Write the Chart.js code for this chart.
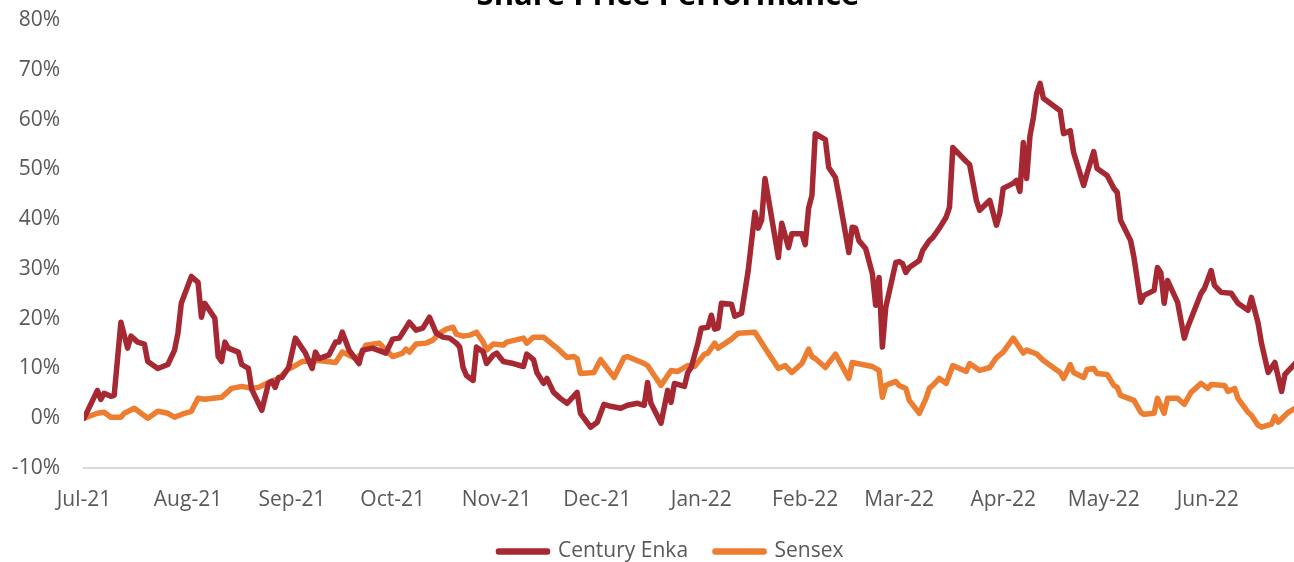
<!DOCTYPE html>
<html>
<head>
<meta charset="utf-8">
<script src="https://cdn.jsdelivr.net/npm/chart.js@4/dist/chart.umd.min.js"></script>
<style>
  html, body { margin: 0; padding: 0; background: #fff; overflow: hidden; width: 1294px; height: 562px; }
  #wrap { position: absolute; left: 0; top: -20px; }
</style>
</head>
<body>
<div id="wrap"><canvas id="perf" width="1294" height="592"></canvas></div>
<script>
// days counted from 1 Jul 2021, values in % change
const monthStarts = [0, 31, 62, 92, 123, 153, 184, 215, 243, 274, 304, 335];
const monthLabels = ['Jul-21', 'Aug-21', 'Sep-21', 'Oct-21', 'Nov-21', 'Dec-21',
                     'Jan-22', 'Feb-22', 'Mar-22', 'Apr-22', 'May-22', 'Jun-22'];

const enkaDays = [0, 4, 5, 6, 8, 9, 11, 13, 14, 16, 18, 19, 22, 25, 27, 28, 29, 32, 34, 35,
    36, 39, 40, 41, 42, 43, 46, 47, 49, 50, 53, 55, 56, 57, 58, 59, 61, 63, 66, 68,
    69, 70, 73, 75, 76, 77, 79, 82, 83, 86, 90, 92, 94, 97, 99, 101, 103, 105, 107, 109,
    111, 112, 113, 114, 116, 117, 119, 120, 122, 123, 125, 128, 131, 132, 134, 135, 137, 138, 140, 142,
    144, 147, 148, 151, 153, 155, 157, 160, 162, 165, 167, 168, 169, 172, 174, 175, 176, 179, 180, 181,
    183, 184, 186, 187, 188, 189, 190, 193, 194, 196, 198, 200, 201, 202, 203, 204, 207, 208, 210, 211,
    214, 215, 216, 217, 218, 221, 222, 224, 225, 228, 229, 230, 231, 233, 235, 236, 237, 238, 239, 242,
    243, 244, 245, 246, 249, 250, 252, 253, 255, 257, 258, 259, 263, 264, 266, 267, 270, 272, 273, 274,
    277, 278, 279, 280, 281, 282, 283, 284, 285, 286, 291, 292, 294, 295, 298, 299, 301, 302, 305, 307,
    308, 309, 312, 313, 315, 316, 319, 320, 321, 322, 323, 326, 328, 329, 333, 334, 336, 337, 339, 342,
    344, 347, 348, 350, 351, 353, 355, 357, 358, 361];
const enkaValues = [0, 5.6, 3.8, 5.0, 4.4, 4.6, 19.3, 14.1, 16.5, 15.3, 14.9, 11.4, 10.0, 10.8, 13.7, 17.1, 23.1, 28.5, 27.3, 20.3,
    23.1, 20.1, 12.4, 11.4, 15.3, 14.1, 13.3, 10.8, 10.0, 5.8, 1.6, 7.0, 7.4, 6.2, 8.2, 8.2, 10.2, 16.1, 13.1, 10.0,
    13.3, 12.0, 12.7, 15.3, 15.3, 17.3, 13.7, 11.0, 13.7, 14.1, 13.1, 15.9, 16.1, 19.3, 17.7, 18.1, 20.3, 17.1, 16.3, 16.1,
    15.1, 14.3, 10.2, 8.6, 7.6, 14.3, 13.3, 11.0, 12.7, 13.1, 11.4, 11.0, 10.4, 12.9, 11.8, 9.2, 7.0, 8.0, 5.2, 4.0,
    3.0, 5.2, 1.0, -1.8, -0.8, 2.8, 2.4, 2.0, 2.6, 3.0, 2.6, 7.2, 3.0, -1.0, 5.6, 3.2, 7.0, 6.4, 9.2, 10.2,
    15.1, 18.1, 18.3, 20.7, 17.9, 18.1, 23.1, 22.9, 20.5, 21.1, 29.7, 41.4, 38.2, 39.8, 48.2, 44.2, 32.3, 39.2, 34.3, 37.1,
    37.1, 34.9, 42.2, 44.8, 57.2, 56.0, 50.4, 48.4, 44.8, 33.3, 38.4, 38.2, 35.7, 34.1, 29.1, 22.7, 28.3, 14.3, 22.3, 31.3,
    31.5, 31.1, 29.3, 30.3, 31.7, 33.7, 35.7, 36.3, 38.2, 40.4, 42.4, 54.4, 51.6, 51.0, 43.8, 41.8, 43.8, 38.8, 41.2, 46.2,
    47.2, 47.8, 45.6, 55.4, 48.2, 56.8, 60.4, 65.3, 67.3, 64.3, 61.8, 57.2, 57.8, 53.4, 46.8, 49.2, 53.6, 50.2, 48.8, 46.2,
    45.4, 39.8, 35.7, 32.3, 23.3, 24.7, 25.7, 30.3, 29.3, 23.1, 27.7, 23.3, 16.1, 18.3, 25.1, 26.1, 29.7, 26.7, 25.3, 25.1,
    23.1, 21.7, 24.3, 19.1, 15.1, 9.2, 11.2, 5.4, 8.8, 11.0];

const sensexDays = [0, 4, 6, 8, 11, 12, 15, 17, 19, 22, 25, 27, 30, 32, 34, 36, 41, 44, 47, 50,
    52, 55, 58, 59, 61, 62, 65, 70, 75, 77, 81, 83, 84, 88, 92, 95, 96, 97, 99, 102,
    104, 106, 108, 110, 111, 113, 115, 117, 119, 120, 122, 125, 126, 131, 132, 134, 137, 141, 144, 146,
    147, 148, 152, 154, 156, 158, 161, 162, 167, 168, 170, 172, 175, 177, 180, 182, 185, 186, 188, 189,
    193, 195, 200, 203, 207, 209, 211, 214, 216, 217, 218, 221, 224, 228, 229, 235, 237, 238, 239, 242,
    243, 245, 246, 249, 251, 252, 253, 255, 257, 259, 263, 264, 267, 270, 272, 274, 277, 280, 281, 284,
    286, 291, 292, 294, 295, 298, 299, 301, 302, 305, 307, 308, 309, 313, 315, 316, 319, 320, 322, 323,
    326, 328, 330, 333, 335, 336, 340, 341, 343, 344, 347, 348, 350, 351, 354, 355, 356, 359, 361];
const sensexValues = [0, 1.0, 1.2, 0.2, 0.2, 1.0, 2.0, 1.0, 0.0, 1.4, 1.0, 0.2, 1.0, 1.4, 4.0, 3.8, 4.2, 6.0, 6.4, 6.0,
    6.2, 7.2, 8.0, 8.6, 10.0, 10.2, 11.4, 11.6, 11.2, 13.3, 12.0, 13.1, 14.7, 15.1, 12.4, 13.1, 13.9, 13.3, 14.9, 15.1,
    15.7, 17.1, 17.9, 18.3, 16.9, 16.5, 16.7, 17.3, 15.3, 13.7, 14.9, 14.7, 15.3, 16.1, 15.1, 16.3, 16.3, 14.1, 12.2, 12.4,
    12.0, 9.0, 9.2, 11.8, 10.0, 8.2, 12.2, 12.4, 11.0, 10.6, 8.6, 6.6, 9.6, 9.4, 10.6, 10.4, 12.9, 13.1, 15.1, 14.1,
    15.9, 17.1, 17.3, 14.1, 10.0, 10.6, 9.2, 11.0, 13.9, 12.4, 12.0, 10.2, 12.9, 8.0, 11.2, 10.4, 9.6, 4.2, 6.6, 7.4,
    6.6, 6.0, 3.6, 1.0, 4.0, 6.0, 6.6, 8.0, 7.0, 10.6, 9.4, 11.0, 9.6, 10.2, 12.2, 13.3, 16.1, 13.1, 13.7, 12.9,
    11.6, 9.2, 8.0, 10.8, 9.2, 8.2, 9.8, 10.0, 9.0, 8.8, 6.6, 6.2, 4.6, 3.6, 1.2, 0.8, 1.0, 4.0, 1.0, 4.0,
    4.0, 2.8, 5.2, 7.0, 6.0, 6.8, 6.6, 5.4, 6.0, 4.0, 1.2, 0.6, -1.4, -1.8, -1.2, 0.4, -0.8, 1.2, 2.0];

function toPoints(days, values) {
    return days.map((d, i) => ({ x: d, y: values[i] }));
}

// the original chart is centred a bit right of the page centre (cropped on the right)
const shiftCentre = {
    id: 'shiftCentre',
    afterLayout(chart) {
        chart.titleBlock.left += 21;
        chart.titleBlock.right += 21;
        chart.legend.left += 24;
        chart.legend.right += 24;
    }
};

const font = { family: "'Open Sans', sans-serif", size: 21 };
const ctx = document.getElementById('perf').getContext('2d');

const chart = new Chart(ctx, {
    type: 'line',
    data: {
        datasets: [
            {
                label: 'Century Enka',
                data: toPoints(enkaDays, enkaValues),
                borderColor: '#A52832',
                backgroundColor: '#A52832',
                borderWidth: 5.5,
                borderJoinStyle: 'round',
                borderCapStyle: 'round',
                pointRadius: 0,
                tension: 0
            },
            {
                label: 'Sensex',
                data: toPoints(sensexDays, sensexValues),
                borderColor: '#ED7D31',
                backgroundColor: '#ED7D31',
                borderWidth: 5.5,
                borderJoinStyle: 'round',
                borderCapStyle: 'round',
                pointRadius: 0,
                tension: 0
            }
        ]
    },
    plugins: [shiftCentre],
    options: {
        responsive: false,
        animation: false,
        layout: { padding: 0 },
        plugins: {
            title: {
                display: true,
                text: 'Share Price Performance',
                color: '#000',
                font: { family: "'Open Sans', sans-serif", size: 31, weight: 'bold' },
                padding: { top: -2, bottom: 5 }
            },
            legend: {
                position: 'bottom',
                labels: {
                    color: '#595959',
                    font: font,
                    boxWidth: 49,
                    boxHeight: 1,
                    padding: 27
                }
            },
            tooltip: { enabled: false }
        },
        scales: {
            x: {
                type: 'linear',
                min: 0,
                max: 360.7,
                grid: { display: false, drawTicks: false },
                border: { display: true, color: '#D9D9D9', width: 2 },
                afterBuildTicks: scale => {
                    scale.ticks = monthStarts.map(v => ({ value: v }));
                },
                afterFit: scale => { scale.height = 46; },
                ticks: {
                    autoSkip: false,
                    maxRotation: 0,
                    padding: 19,
                    color: '#595959',
                    font: font,
                    callback: value => monthLabels[monthStarts.indexOf(value)]
                }
            },
            y: {
                min: -10,
                max: 80,
                grid: { display: false, drawTicks: false },
                border: { display: false },
                afterFit: scale => { scale.width = 84; },
                ticks: {
                    stepSize: 10,
                    padding: 24,
                    color: '#595959',
                    font: font,
                    callback: value => value + '%'
                }
            }
        }
    }
});
</script>
</body>
</html>
